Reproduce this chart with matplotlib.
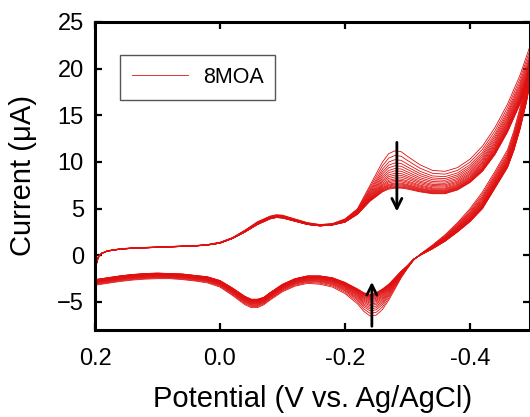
import matplotlib
matplotlib.use("Agg")
import matplotlib.pyplot as plt
import numpy as np

plt.rcParams['font.family'] = ['Liberation Sans', 'DejaVu Sans']

# ---------------- data ----------------
# forward scan (0.2 V -> -0.5 V)
E_fwd = [0.20, 0.199, 0.195, 0.19, 0.18, 0.16, 0.14, 0.12, 0.10, 0.08, 0.06, 0.04, 0.02,
         0.00, -0.02, -0.04, -0.06, -0.08, -0.09, -0.10, -0.12, -0.14, -0.16, -0.18, -0.20,
         -0.22, -0.24, -0.26, -0.27, -0.28, -0.29, -0.30, -0.32, -0.34, -0.36, -0.38, -0.40,
         -0.42, -0.44, -0.46, -0.48, -0.50]
I_fwd_first = [-3.2, -1.3, -0.3, 0.2, 0.5, 0.7, 0.8, 0.85, 0.9, 0.95, 1.0, 1.05, 1.15,
               1.4, 1.9, 2.7, 3.6, 4.2, 4.35, 4.3, 3.9, 3.5, 3.3, 3.4, 3.9,
               5.0, 7.5, 10.0, 10.9, 11.2, 11.1, 10.6, 9.7, 9.1, 9.0, 9.4, 10.3,
               11.7, 13.7, 16.2, 19.3, 23.2]
I_fwd_last = [-2.6, -1.1, -0.2, 0.2, 0.45, 0.65, 0.75, 0.8, 0.85, 0.9, 0.95, 1.0, 1.1,
              1.3, 1.8, 2.5, 3.3, 3.9, 4.05, 4.0, 3.65, 3.3, 3.15, 3.25, 3.55,
              4.4, 5.8, 6.8, 7.1, 7.2, 7.2, 7.1, 6.8, 6.6, 6.6, 7.0, 7.8,
              9.0, 10.8, 13.2, 16.2, 19.8]

# reverse scan (-0.5 V -> 0.2 V)
E_rev = [-0.50, -0.49, -0.48, -0.47, -0.46, -0.44, -0.42, -0.40, -0.38, -0.36, -0.34, -0.32,
         -0.31, -0.30, -0.29, -0.28, -0.27, -0.26, -0.25, -0.24, -0.23, -0.22, -0.20, -0.18,
         -0.16, -0.14, -0.12, -0.10, -0.08, -0.07, -0.06, -0.05, -0.04, -0.02, 0.00, 0.02,
         0.04, 0.06, 0.08, 0.10, 0.12, 0.14, 0.16, 0.18, 0.19, 0.20]
I_rev_first = [23.2, 19.0, 15.8, 13.3, 11.3, 9.0, 6.8, 5.0, 3.5, 2.2, 1.1, 0.1,
               -0.5, -1.4, -2.4, -3.6, -4.8, -5.8, -6.4, -6.5, -6.0, -5.2, -4.1, -3.4,
               -3.1, -3.0, -3.3, -3.9, -4.8, -5.3, -5.6, -5.6, -5.3, -4.3, -3.4, -2.95,
               -2.75, -2.6, -2.5, -2.5, -2.55, -2.65, -2.8, -3.0, -3.1, -3.2]
I_rev_last = [19.8, 16.3, 13.5, 11.2, 9.4, 7.2, 5.0, 3.6, 2.5, 1.5, 0.7, 0.0,
              -0.4, -1.1, -1.7, -2.4, -3.1, -3.6, -4.0, -4.2, -4.0, -3.6, -2.9, -2.4,
              -2.2, -2.2, -2.5, -3.1, -4.0, -4.5, -4.7, -4.7, -4.4, -3.5, -2.7, -2.3,
              -2.15, -2.0, -1.95, -1.9, -1.95, -2.05, -2.2, -2.4, -2.5, -2.6]

# anodic-scan peak current (at about -0.28 V) of each successive cycle
upper_peak = [11.2, 10.7, 10.25, 9.9, 9.6, 9.3, 9.05, 8.8, 8.6, 8.4,
              8.2, 8.05, 7.9, 7.75, 7.65, 7.55, 7.45, 7.35, 7.28, 7.2]

legend_label = "8MOA"
x_ticks = [0.2, 0.0, -0.2, -0.4]
x_ticklabels = ["0.2", "0.0", "-0.2", "-0.4"]
y_ticks = [-5, 0, 5, 10, 15, 20, 25]

# ---------------- figure ----------------
W, H = 530, 417
fig = plt.figure(figsize=(W / 100, H / 100), dpi=100)
ax = fig.add_axes([95 / W, 1 - 330 / H, 434.5 / W, 308 / H])

E_fwd_a = np.array(E_fwd)
E_rev_a = np.array(E_rev)
ff, fl = np.array(I_fwd_first), np.array(I_fwd_last)
rf, rl = np.array(I_rev_first), np.array(I_rev_last)
p0, p1 = upper_peak[0], upper_peak[-1]

color = '#e01010'
for k, p in enumerate(upper_peak):
    w = (p0 - p) / (p0 - p1)
    E = np.concatenate([E_fwd_a, E_rev_a])
    I = np.concatenate([ff + w * (fl - ff), rf + w * (rl - rf)])
    ax.plot(E, I, color=color, lw=0.6, label=legend_label if k == 0 else None)

ax.set_xlim(0.2, -0.4952)
ax.set_ylim(-8, 25)
ax.set_xticks(x_ticks)
ax.set_xticklabels(x_ticklabels)
ax.set_yticks(y_ticks)
ax.tick_params(direction='in', length=5, width=1.6, top=True, right=True,
               labelsize=17)
ax.tick_params(axis='x', pad=13)
ax.tick_params(axis='y', pad=8)
for s in ax.spines.values():
    s.set_linewidth(2.2)

ax.set_xlabel("Potential (V vs. Ag/AgCl)", fontsize=21, labelpad=11)
ax.set_ylabel("Current (μA)", fontsize=21)
ax.yaxis.set_label_coords(-0.133, 0.5)

# arrows
ax.annotate("", xy=(-0.283, 4.4), xytext=(-0.283, 12.4),
            arrowprops=dict(arrowstyle='->', color='black', lw=2, mutation_scale=18))
ax.annotate("", xy=(-0.243, -2.55), xytext=(-0.243, -7.9),
            arrowprops=dict(arrowstyle='->', color='black', lw=2, mutation_scale=18))

leg = ax.legend(loc='upper left', bbox_to_anchor=(0.057, 0.893), borderaxespad=0,
                fontsize=15.5, handlelength=2.6, fancybox=False, framealpha=1,
                edgecolor='#555555', borderpad=0.55, handletextpad=0.7)
leg.get_frame().set_linewidth(1.0)

fig.savefig("out.png", dpi=100)
